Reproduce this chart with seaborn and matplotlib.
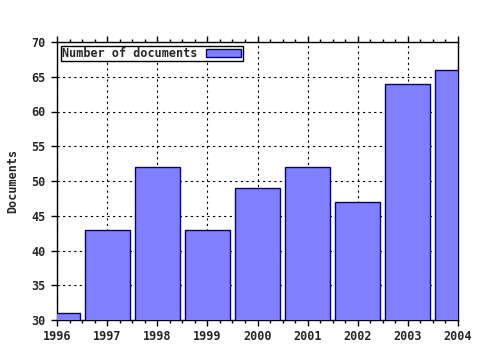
import matplotlib
matplotlib.use("Agg")
import matplotlib.pyplot as plt
import seaborn as sns
import pandas as pd
from matplotlib.ticker import MultipleLocator

years = ["1996", "1997", "1998", "1999", "2000", "2001", "2002", "2003", "2004"]
documents = [31, 43, 52, 43, 49, 52, 47, 64, 66]
y_ticks = [30, 35, 40, 45, 50, 55, 60, 65, 70]

sns.set_style("white")
plt.rcParams['font.family'] = ['DejaVu Sans Mono']
plt.rcParams['font.weight'] = 'bold'

df = pd.DataFrame({"year": years, "documents": documents})

fig = plt.figure(figsize=(4.8, 3.5), dpi=100)
ax = fig.add_axes([57/480, 1 - 320/350, (458-57)/480, (320-42)/350])

sns.barplot(data=df, x="year", y="documents", order=years, color="#8080FF",
            saturation=1, width=0.9, edgecolor="#000080", linewidth=1.0,
            label="Number of documents", ax=ax, zorder=3)

ax.set_xlim(0, len(years) - 1)
ax.set_ylim(30, 70)
ax.set_yticks(y_ticks)
ax.set_xticks(range(len(years)))
ax.set_xticklabels(years)
ax.xaxis.set_minor_locator(MultipleLocator(0.25))

ax.grid(True, which="major", color="black", linestyle=(0, (2, 3)), linewidth=0.8, zorder=0)
ax.set_axisbelow(True)

ax.tick_params(axis="x", which="major", bottom=True, top=True, direction="out", length=4,
               width=1, color="black", labelsize=8.5, pad=3)
ax.tick_params(axis="x", which="minor", bottom=True, top=True, direction="out", length=2,
               width=1, color="black")
ax.tick_params(axis="y", which="major", left=True, direction="out", length=4, width=1,
               color="black", labelsize=8.5, pad=4)
for lab in ax.get_xticklabels() + ax.get_yticklabels():
    lab.set_fontweight("bold")

for s in ax.spines.values():
    s.set_visible(True)
    s.set_color("black")
    s.set_linewidth(1)

ax.set_xlabel("")
ax.set_ylabel("Documents", fontsize=8.5, fontweight="bold", labelpad=9)

leg = ax.legend(loc="upper left", markerfirst=False, frameon=True, fancybox=False,
                borderpad=0.1, handlelength=3.0, handleheight=0.6, handletextpad=0.7,
                borderaxespad=0.35, prop={"family": "DejaVu Sans Mono", "weight": "bold", "size": 8.5})
leg.get_frame().set_edgecolor("black")
leg.get_frame().set_linewidth(1)
leg.get_frame().set_alpha(1)

fig.savefig("out.png", dpi=100, facecolor="white")
